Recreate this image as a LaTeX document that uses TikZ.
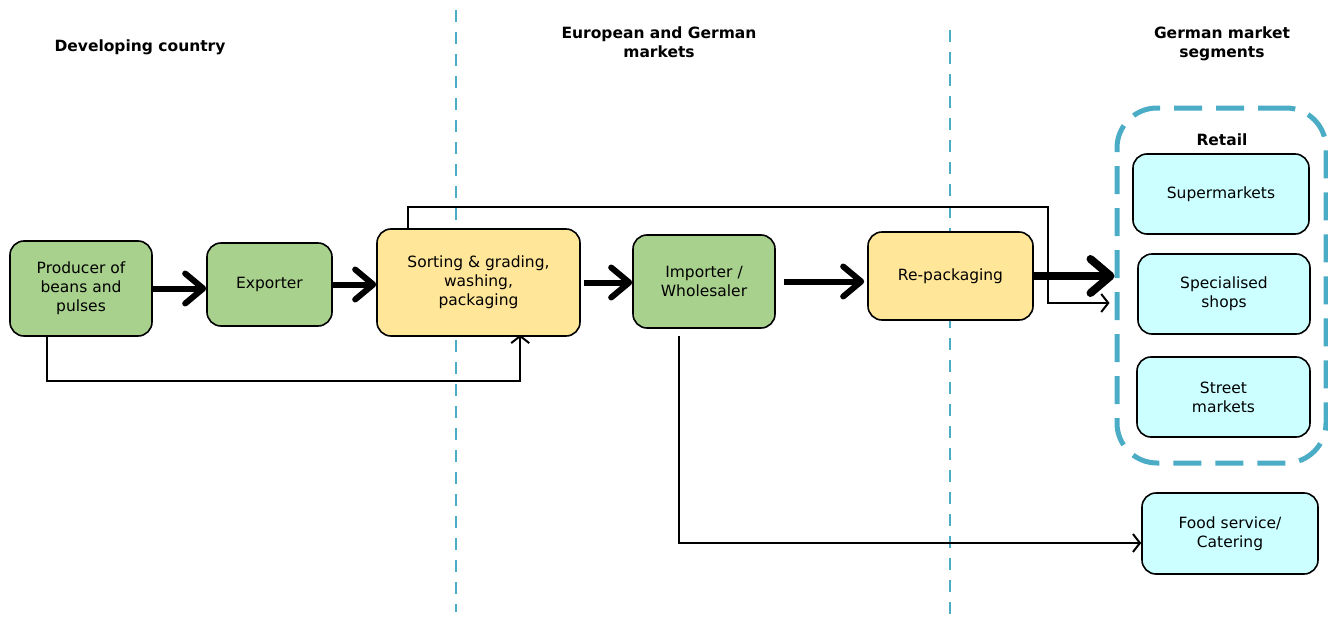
\documentclass[tikz,border=0pt]{standalone}
\usepackage{fontspec}
\setmainfont{DejaVu Sans}
\usetikzlibrary{positioning,arrows.meta,calc}

\definecolor{prodgreen}{HTML}{A9D18E}
\definecolor{procyellow}{HTML}{FFE699}
\definecolor{segcyan}{HTML}{CCFFFF}
\definecolor{borderblue}{HTML}{4BACC6}

\tikzset{
  box/.style={draw,line width=1.6pt,rounded corners=14pt,align=center,
    inner sep=0pt,font=\fontsize{15.5}{19}\selectfont},
  actor/.style={box,fill=prodgreen},
  process/.style={box,fill=procyellow},
  segment/.style={box,fill=segcyan},
  header/.style={align=center,font=\fontsize{15.5}{19}\selectfont\bfseries},
  flow/.style={line width=6pt,-{Straight Barb[length=18pt,width=30pt,round]}},
  bigflow/.style={line width=8pt,-{Straight Barb[length=20pt,width=34pt,round]}},
  link/.style={line width=2pt,-{Straight Barb[length=7pt,width=18pt]}},
  divider/.style={borderblue,line width=2pt,dash pattern=on 12pt off 10pt},
}

\begin{document}
\begin{tikzpicture}[x=1pt,y=-1pt]
\useasboundingbox (0,0) rectangle (1328,618);

% market divisions
\draw[divider] (456,10) -- (456,612);
\draw[divider] (950,30) -- (950,616);

% column headings
\node[header] (hdev) at (140,47) {Developing country};
\node[header] (heu) at (659,42) {European and German\\markets};
\node[header] (hseg) at (1222,44) {German market\\segments};

% supply chain
\node[actor,minimum width=142pt,minimum height=95pt] (prod) at (81,288.5) {Producer of\\beans and\\pulses};
\node[actor,minimum width=125pt,minimum height=83pt] (exp) at (269.5,284.5) {Exporter};
\node[process,minimum width=203pt,minimum height=107pt] (sort) at (478.5,282.5) {Sorting \& grading,\\washing,\\packaging};
\node[actor,minimum width=142pt,minimum height=93pt] (imp) at (704,281.5) {Importer /\\Wholesaler};
\node[process,minimum width=165pt,minimum height=88pt] (repack) at (950.5,276) {Re-packaging};

% German market segments
\node[draw=borderblue,line width=5pt,dash pattern=on 28pt off 14pt,rounded corners=40pt,
  minimum width=209pt,minimum height=355pt,inner sep=0pt] (retail) at (1221.5,285.5) {};
\node[header] (lretail) at (1222,140) {Retail};
\node[segment,minimum width=176pt,minimum height=80pt] (super) at (1221,194) {Supermarkets};
\node[segment,minimum width=172pt,minimum height=80pt] (shops) at (1224,294) {Specialised\\shops};
\node[segment,minimum width=173pt,minimum height=80pt] (street) at (1223.5,397) {Street\\markets};
\node[segment,minimum width=176pt,minimum height=81pt] (food) at (1230,533.5) {Food service/\\Catering};

\coordinate (overtop) at (1048,207);

\draw[flow] (prod.east) -- (exp.west |- prod.east);
\draw[flow] (exp.east) -- (sort.west |- exp.east);
\draw[flow] ([xshift=3pt]sort.east) -- (imp.west |- sort.east);
\draw[flow] ([xshift=8pt]imp.east) -- ([xshift=-3pt]repack.west |- imp.east);
\draw[bigflow] (repack.east) -- (retail.west |- repack.east);

\draw[link] ([xshift=32pt]sort.north west) |- (overtop) |- ([xshift=-5pt,yshift=-17.5pt]retail.west);
\draw[link] ([xshift=38pt]prod.south west) -- ++(0,44) -| ([xshift=144pt,yshift=2pt]sort.south west);
\draw[link] ([xshift=47pt,yshift=-7pt]imp.south west) |- ([yshift=-9.5pt]food.west);
\end{tikzpicture}
\end{document}
